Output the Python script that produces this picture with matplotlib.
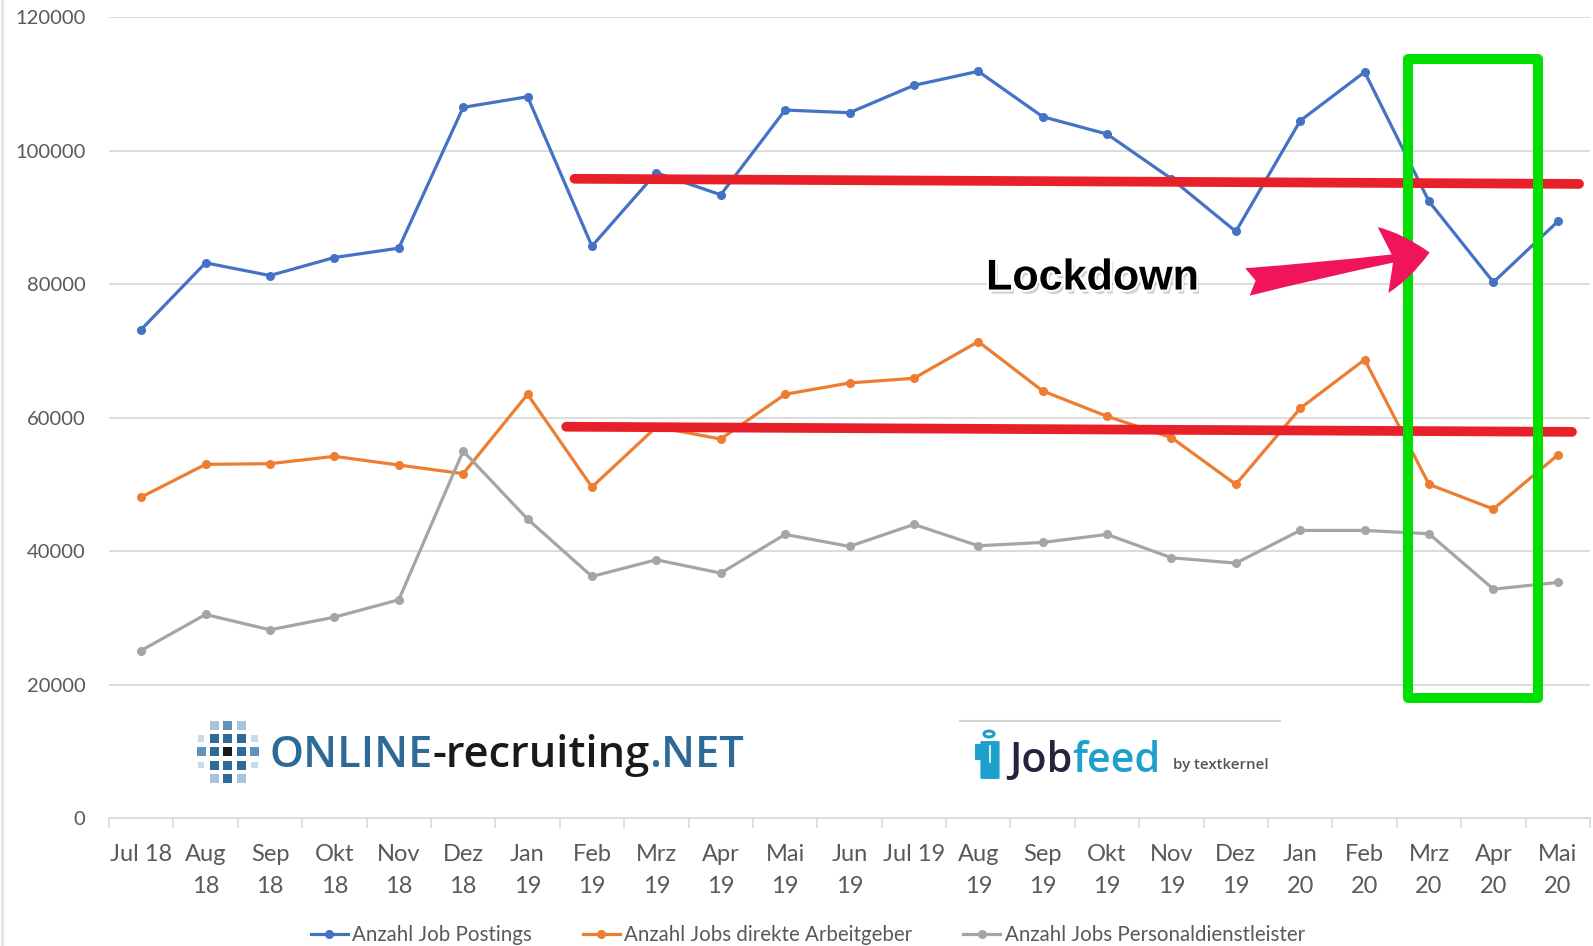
import matplotlib
matplotlib.use("Agg")
import numpy as np
import matplotlib.pyplot as plt
import matplotlib.patheffects as pe
from matplotlib.patches import Rectangle, FancyArrowPatch, Circle, FancyBboxPatch
from matplotlib.lines import Line2D

# ---------------- data ----------------
months = ["Jul 18", "Aug\n18", "Sep\n18", "Okt\n18", "Nov\n18", "Dez\n18",
          "Jan\n19", "Feb\n19", "Mrz\n19", "Apr\n19", "Mai\n19", "Jun\n19",
          "Jul 19", "Aug\n19", "Sep\n19", "Okt\n19", "Nov\n19", "Dez\n19",
          "Jan\n20", "Feb\n20", "Mrz\n20", "Apr\n20", "Mai\n20"]
job_postings = [73200, 83200, 81300, 84000, 85400, 106500, 108100, 85700, 96700,
                93400, 106100, 105700, 109800, 111900, 105100, 102500, 95800,
                87900, 104500, 111800, 92400, 80300, 89400]
direct_employers = [48100, 53000, 53100, 54200, 52900, 51600, 63500, 49600, 58600,
                    56800, 63500, 65200, 65900, 71400, 64000, 60200, 57000,
                    50000, 61400, 68700, 50000, 46300, 54400]
staffing_agencies = [25100, 30500, 28200, 30100, 32700, 55000, 44800, 36200, 38700,
                     36700, 42500, 40700, 44000, 40800, 41300, 42500, 39000,
                     38200, 43100, 43100, 42600, 34300, 35300]
series_names = ["Anzahl Job Postings", "Anzahl Jobs direkte Arbeitgeber",
                "Anzahl Jobs Personaldienstleister"]
series_colors = ["#4472C4", "#ED7D31", "#A5A5A5"]
yticks = [0, 20000, 40000, 60000, 80000, 100000, 120000]
annotation_text = "Lockdown"

# ---------------- figure ----------------
W, H = 1593, 946
fig = plt.figure(figsize=(W / 100, H / 100), dpi=100)
fig.patch.set_facecolor("white")
plt.rcParams["font.family"] = ["Lato", "DejaVu Sans"]

ax_left, ax_right, ax_top, ax_bottom = 109, 1590, 17.3, 818
ax = fig.add_axes([ax_left / W, 1 - ax_bottom / H,
                   (ax_right - ax_left) / W, (ax_bottom - ax_top) / H])

x = np.arange(len(months))
for vals, col in zip([job_postings, direct_employers, staffing_agencies], series_colors):
    ax.plot(x, vals, color=col, lw=2.3, marker="o", ms=5.5, zorder=3)

ax.set_xlim(-0.5, len(months) - 0.5)
ax.set_ylim(0, 120000)

ax.set_yticks(yticks)
ax.set_yticklabels([str(v) for v in yticks])
ax.tick_params(axis="y", length=0, pad=17, labelsize=14.5, labelcolor="#595959")
ax.yaxis.grid(True, color="#D9D9D9", lw=1.3)
ax.set_axisbelow(True)

ax.set_xticks(np.arange(-0.5, len(months), 1.0))
ax.set_xticklabels([])
ax.tick_params(axis="x", which="major", length=7, width=1.2, color="#D9D9D9")
ax.set_xticks(x, minor=True)
ax.set_xticklabels(months, minor=True)
ax.tick_params(axis="x", which="minor", length=0, pad=19, labelsize=17,
               labelcolor="#595959")
for lbl in ax.get_xticklabels(minor=True):
    lbl.set_linespacing(1.62)

for s in ["top", "right", "left"]:
    ax.spines[s].set_visible(False)
ax.spines["bottom"].set_color("#D9D9D9")
ax.spines["bottom"].set_linewidth(1.3)

# ---------------- annotations ----------------
red = "#E8202A"
ax.plot([6.73, 22.33], [95800, 95030], color=red, lw=7, solid_capstyle="round", zorder=5)
ax.plot([6.60, 22.22], [58640, 57870], color=red, lw=7, solid_capstyle="round", zorder=5)

ax.add_patch(Rectangle((19.67, 18000), 21.69 - 19.67, 113700 - 18000, fill=False,
                       edgecolor="#00E000", lw=7.2, joinstyle="round", zorder=6,
                       clip_on=False))

ax.add_patch(FancyArrowPatch((17.18, 80340), (20.01, 84750),
                             arrowstyle="fancy,head_length=0.85,head_width=1.2,tail_width=0.5",
                             mutation_scale=40, color="#F0145A", lw=0, zorder=7,
                             shrinkA=0, shrinkB=0))

ax.text(14.77, 80850, annotation_text, ha="center", va="center", fontsize=31,
        fontweight="bold", family=["Liberation Sans", "DejaVu Sans"], color="black",
        zorder=8,
        path_effects=[pe.withSimplePatchShadow(offset=(2, -3), shadow_rgbFace="#9A9A9A",
                                               alpha=0.45),
                      pe.Stroke(linewidth=3, foreground="white"),
                      pe.Normal()])

# ---------------- logos ----------------
renderer = fig.canvas.get_renderer()


def fig_text(px, py, s, **kw):
    return fig.text(px / W, 1 - py / H, s, **kw)


def width_px(t):
    return t.get_window_extent(renderer).width


# ONLINE-recruiting.NET
logo_parts = [("ONLINE", "#2D6A97"), ("-recruiting", "#1A1A1A"), (".NET", "#2D6A97")]
logo_kw = dict(family=["Open Sans", "DejaVu Sans"], fontweight="semibold", va="baseline")
probe = fig_text(269, 767, "".join(p for p, _ in logo_parts), fontsize=32, **logo_kw)
fs_logo = 32 * 476 / width_px(probe)
probe.remove()
cx = 269
for part, col in logo_parts:
    t = fig_text(cx, 767, part, fontsize=fs_logo, color=col, **logo_kw)
    cx += width_px(t)

# icon grid
light, mid, dark, vlight = "#A9C4DA", "#5F93BD", "#2E6A97", "#C9DAE8"
grid = [
    [None, light, mid, light, None],
    [vlight, dark, dark, dark, vlight],
    [mid, dark, "#1A1A1A", dark, mid],
    [vlight, dark, dark, dark, vlight],
    [None, light, dark, light, None],
]
cxi, cyi, sp, sq = 227.7, 751.7, 13.3, 9.0
for r, row in enumerate(grid):
    for c, col in enumerate(row):
        if col is None:
            continue
        size = sq * (0.75 if col == vlight else 1.0)
        px = cxi + (c - 2) * sp - size / 2
        py = cyi + (r - 2) * sp + size / 2
        fig.add_artist(Rectangle((px / W, 1 - py / H), size / W, size / H,
                                 facecolor=col, edgecolor="none",
                                 transform=fig.transFigure))

# Jobfeed logo
fig.add_artist(Line2D([960 / W, 1280 / W], [1 - 721 / H, 1 - 721 / H],
                      color="#D5D5D5", lw=1.5, transform=fig.transFigure))
jf_kw = dict(family=["Open Sans", "DejaVu Sans"], fontweight="semibold", va="baseline")
probe = fig_text(1009, 772, "Jobfeed", fontsize=30, **jf_kw)
fs_jf = 30 * 152 / width_px(probe)
probe.remove()
t = fig_text(1009, 772, "Job", fontsize=fs_jf, color="#24243F", **jf_kw)
fig_text(1009 + width_px(t), 772, "feed", fontsize=fs_jf, color="#1DA1CC", **jf_kw)
probe = fig_text(1173, 769, "by textkernel", fontsize=11, color="#555555",
                 family=["Open Sans", "DejaVu Sans"], fontweight="semibold", va="baseline")
probe.set_fontsize(11 * 95 / width_px(probe))

# person icon
teal = "#1DA1CC"
fig.add_artist(Circle((989 / W, 1 - 734 / H), 5 / W, transform=fig.transFigure,
                      facecolor="white", edgecolor=teal, lw=2.2))
fig.add_artist(FancyBboxPatch((982 / W, 1 - 778 / H), 16 / W, 36 / H,
                              boxstyle="round,pad=0.001", transform=fig.transFigure,
                              facecolor=teal, edgecolor="none"))
fig.add_artist(Rectangle((975 / W, 1 - 760 / H), 9 / W, 16 / H, transform=fig.transFigure,
                         facecolor=teal, edgecolor="none"))
fig.add_artist(Line2D([990 / W, 990 / W], [1 - 746 / H, 1 - 762 / H], color="white",
                      lw=1.2, transform=fig.transFigure))

# left border of the picture
fig.add_artist(Line2D([1.5 / W, 1.5 / W], [0, 1], color="#E3E3E3", lw=2,
                      transform=fig.transFigure))

# ---------------- legend ----------------
handles = [Line2D([], [], color=c, lw=2.3, marker="o", ms=5.5) for c in series_colors]
leg = fig.legend(handles, series_names, loc="center", bbox_to_anchor=(0.507, 1 - 935 / H),
                 ncol=3, frameon=False, fontsize=14.8, handlelength=1.8,
                 handletextpad=0.2, columnspacing=2.5, borderaxespad=0)
for txt in leg.get_texts():
    txt.set_color("#595959")

fig.savefig("out.png", dpi=100, facecolor="white")
